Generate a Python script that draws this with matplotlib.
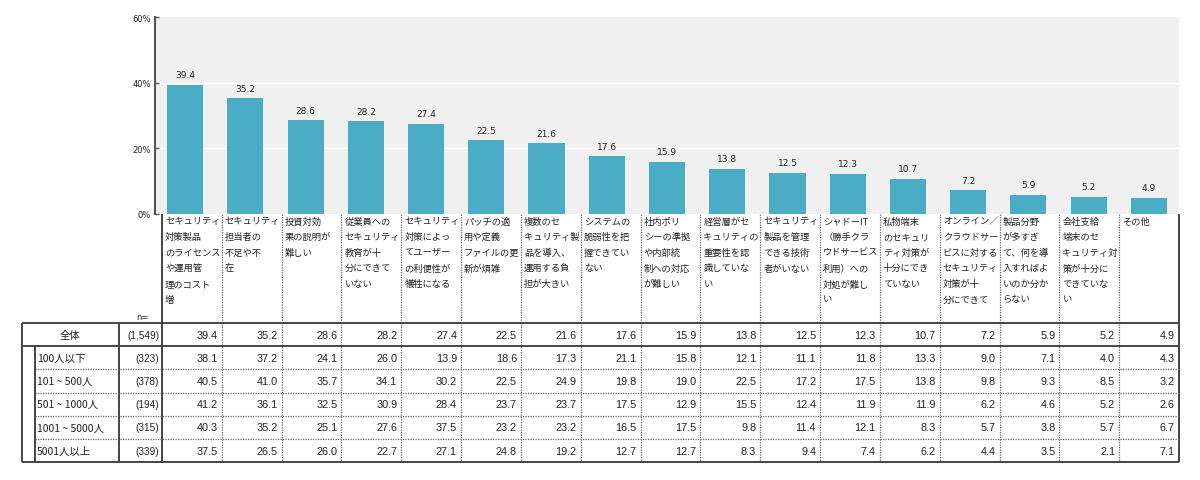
import matplotlib
matplotlib.use("Agg")
import matplotlib.pyplot as plt

plt.rcParams['font.family'] = ['Noto Sans CJK JP', 'DejaVu Sans']

# ---------------- data ----------------
categories = [
    "セキュリティ\n対策製品\nのライセンス\nや運用管\n理のコスト\n増",
    "セキュリティ\n担当者の\n不足や不\n在",
    "投資対効\n果の説明が\n難しい",
    "従業員への\nセキュリティ\n教育が十\n分にできて\nいない",
    "セキュリティ\n対策によっ\nてユーザー\nの利便性が\n犠牲になる",
    "パッチの適\n用や定義\nファイルの更\n新が煩雑",
    "複数のセ\nキュリティ製\n品を導入、\n運用する負\n担が大きい",
    "システムの\n脆弱性を把\n握できてい\nない",
    "社内ポリ\nシーの準拠\nや内部統\n制への対応\nが難しい",
    "経営層がセ\nキュリティの\n重要性を認\n識していな\nい",
    "セキュリティ\n製品を管理\nできる技術\n者がいない",
    "シャドーIT\n（勝手クラ\nウドサービス\n利用）への\n対処が難し\nい",
    "私物端末\nのセキュリ\nティ対策が\n十分にでき\nていない",
    "オンライン／\nクラウドサー\nビスに対する\nセキュリティ\n対策が十\n分にできて",
    "製品分野\nが多すぎ\nて、何を導\n入すればよ\nいのか分か\nらない",
    "会社支給\n端末のセ\nキュリティ対\n策が十分に\nできていな\nい",
    "その他",
]

overall_label = "全体"
overall_n = "(1,549)"
overall = [39.4, 35.2, 28.6, 28.2, 27.4, 22.5, 21.6, 17.6, 15.9, 13.8,
           12.5, 12.3, 10.7, 7.2, 5.9, 5.2, 4.9]

group_labels = ["100人以下", "101 ~ 500人", "501 ~ 1000人", "1001 ~ 5000人", "5001人以上"]
group_n = ["(323)", "(378)", "(194)", "(315)", "(339)"]
group_values = [
    [38.1, 37.2, 24.1, 26.0, 13.9, 18.6, 17.3, 21.1, 15.8, 12.1, 11.1, 11.8, 13.3, 9.0, 7.1, 4.0, 4.3],
    [40.5, 41.0, 35.7, 34.1, 30.2, 22.5, 24.9, 19.8, 19.0, 22.5, 17.2, 17.5, 13.8, 9.8, 9.3, 8.5, 3.2],
    [41.2, 36.1, 32.5, 30.9, 28.4, 23.7, 23.7, 17.5, 12.9, 15.5, 12.4, 11.9, 11.9, 6.2, 4.6, 5.2, 2.6],
    [40.3, 35.2, 25.1, 27.6, 37.5, 23.2, 23.2, 16.5, 17.5, 9.8, 11.4, 12.1, 8.3, 5.7, 3.8, 5.7, 6.7],
    [37.5, 26.5, 26.0, 22.7, 27.1, 24.8, 19.2, 12.7, 12.7, 8.3, 9.4, 7.4, 6.2, 4.4, 3.5, 2.1, 7.1],
]

y_ticks = [0, 20, 40, 60]
y_ticklabels = ["0%", "20%", "40%", "60%"]

# ---------------- layout ----------------
W, H = 1200, 481
fig = plt.figure(figsize=(W / 100, H / 100), dpi=100)

BAR_COLOR = "#4BACC6"
LINE = "#444444"
TXT = "#222222"

plot_left, plot_right, plot_top, plot_bottom = 155, 1179, 18, 215
ax = fig.add_axes([plot_left / W, 1 - plot_bottom / H,
                   (plot_right - plot_left) / W, (plot_bottom - plot_top) / H])
ax.set_facecolor("#f0f0f0")
n = len(overall)
xs = list(range(n))
ax.bar(xs, overall, width=0.6, color=BAR_COLOR, zorder=3)
ax.set_xlim(-0.5, n - 0.5)
ax.set_ylim(0, 60)
ax.set_yticks(y_ticks)
ax.set_yticklabels(y_ticklabels, fontsize=6, family="DejaVu Sans", color=TXT)
ax.set_xticks([])
for yv in y_ticks[1:-1]:
    ax.axhline(yv, color="white", lw=1.0, zorder=1)
for s in ["top", "right", "bottom"]:
    ax.spines[s].set_visible(False)
ax.spines["left"].set_color("#555555")
ax.spines["left"].set_linewidth(1.5)
ax.tick_params(axis="y", direction="in", length=3, width=1, color="#555555", pad=3)
for x, v in zip(xs, overall):
    ax.annotate(f"{v:.1f}", (x, v), xytext=(0, 4), textcoords="offset points",
                ha="center", va="bottom", fontsize=6.5, family="DejaVu Sans", color=TXT)

# overlay axes in pixel coordinates for table/labels
ov = fig.add_axes([0, 0, 1, 1], facecolor="none")
ov.set_xlim(0, W)
ov.set_ylim(H, 0)
ov.axis("off")

col_left0 = 162
col_right_end = 1179
col_w = (col_right_end - col_left0) / n
label_top = 215
table_top = 324
row_h = 23.2
table_bottom = table_top + row_h * 6

def hline(y, x0, x1, dotted=False, lw=1.4):
    ov.plot([x0, x1], [y, y], color=LINE if not dotted else "#666666",
            lw=lw if not dotted else 0.9,
            linestyle=(0, (1, 1)) if dotted else "-", solid_capstyle="butt")

def vline(x, y0, y1, dotted=False, lw=1.4):
    ov.plot([x, x], [y0, y1], color=LINE if not dotted else "#666666",
            lw=lw if not dotted else 0.9,
            linestyle=(0, (1, 1)) if dotted else "-", solid_capstyle="butt")

# header labels
for i, lab in enumerate(categories):
    lx = col_left0 + i * col_w + 3
    for k, line in enumerate(lab.split("\n")):
        ov.text(lx, 217.5 + k * 15.6, line, ha="left", va="top", fontsize=6.7, color=TXT)

# column separators
for i in range(1, n):
    vline(col_left0 + i * col_w, label_top, table_bottom, dotted=True)
vline(col_left0, label_top, table_bottom)
vline(col_right_end, label_top, table_bottom)

# table frame
x_outer, x_inner, x_ncol = 22, 35, 119
hline(table_top, x_outer, col_right_end)
hline(table_top + row_h, x_outer, col_right_end)
for r in range(2, 6):
    hline(table_top + r * row_h, x_inner, col_right_end, dotted=True)
hline(table_bottom, x_outer, col_right_end)
vline(x_outer, table_top, table_bottom)
vline(x_inner, table_top + row_h, table_bottom)
vline(x_ncol, table_top, table_bottom)

ov.text(142, 318, "n=", ha="center", va="center", fontsize=6, color=TXT, family="DejaVu Sans")

NUMFONT = "Liberation Sans"
def row(r, label, nval, vals, center_label=False):
    yc = table_top + (r + 0.5) * row_h
    if center_label:
        ov.text((x_outer + x_ncol) / 2, yc, label, ha="center", va="center", fontsize=7.5, color=TXT)
    else:
        ov.text(x_inner + 2, yc, label, ha="left", va="center", fontsize=7.5, color=TXT)
    ov.text(col_left0 - 3, yc, nval, ha="right", va="center", fontsize=7.2, color=TXT, family=NUMFONT)
    for i, v in enumerate(vals):
        ov.text(col_left0 + (i + 1) * col_w - 4, yc, f"{v:.1f}", ha="right", va="center",
                fontsize=7.8, color=TXT, family=NUMFONT)

row(0, overall_label, overall_n, overall, center_label=True)
for r, (gl, gn, gv) in enumerate(zip(group_labels, group_n, group_values), start=1):
    row(r, gl, gn, gv)

fig.savefig("out.png", dpi=100)
